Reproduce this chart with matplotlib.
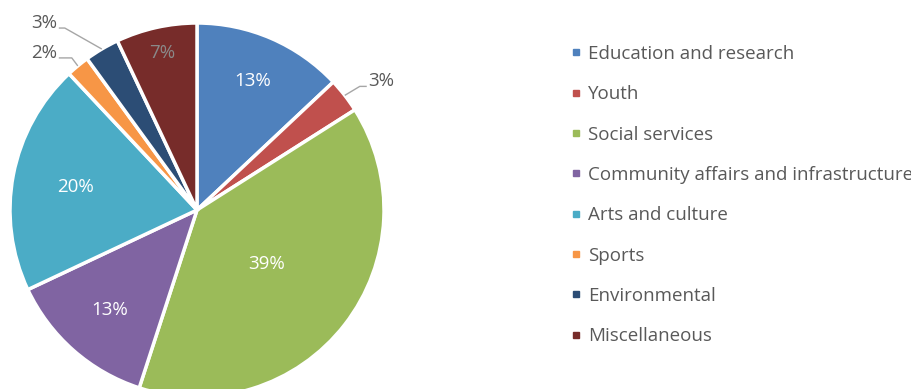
import matplotlib
matplotlib.use("Agg")
import matplotlib.pyplot as plt
from matplotlib.lines import Line2D
import numpy as np

categories = [
    "Education and research",
    "Youth",
    "Social services",
    "Community affairs and infrastructure",
    "Arts and culture",
    "Sports",
    "Environmental",
    "Miscellaneous",
]
shares = [13, 3, 39, 13, 20, 2, 3, 7]
label_texts = ["13%", "3%", "39%", "13%", "20%", "2%", "3%", "7%"]

colors = ["#4F81BD", "#C0504D", "#9BBB59", "#8064A2",
          "#4BACC6", "#F79646", "#2C4D75", "#772C2A"]

# label placement style: ("in", radial fraction, text colour) or
# ("out", elbow offset, horizontal run)
label_style = [
    ("in", 0.75, "white"),
    ("out", (15, 9), 7),
    ("in", 0.47, "white"),
    ("in", 0.71, "white"),
    ("in", 0.66, "white"),
    ("out", (-6, 8), -13),
    ("out", (-37, 21), -6),
    ("in", 0.86, "#8a8a8a"),
]

plt.rcParams["font.family"] = ["Open Sans", "DejaVu Sans"]
TEXT_GREY = "#595959"
FS = 13.5

W, H = 912, 389
fig = plt.figure(figsize=(W / 100, H / 100), dpi=100)
ax = fig.add_axes([0, 0, 1, 1])

cx, cy, R = 197, 179, 187
wedges, _ = ax.pie(
    shares, colors=colors, startangle=90, counterclock=False,
    center=(cx, cy), radius=R,
    wedgeprops=dict(edgecolor="white", linewidth=2.5),
)
ax.set_xlim(0, W)
ax.set_ylim(0, H)
ax.set_aspect("equal")
ax.axis("off")

for w, txt, style in zip(wedges, label_texts, label_style):
    mid = np.deg2rad((w.theta1 + w.theta2) / 2)
    ux, uy = np.cos(mid), np.sin(mid)
    if style[0] == "in":
        frac, col = style[1], style[2]
        ax.text(cx + frac * R * ux, cy + frac * R * uy, txt,
                ha="center", va="center", color=col, fontsize=FS)
    else:
        (dx, dy), run = style[1], style[2]
        x0, y0 = cx + R * ux, cy + R * uy
        x1, y1 = x0 + dx, y0 + dy
        x2 = x1 + run
        ax.plot([x0, x1, x2], [y0, y1, y1], color="#a6a6a6", lw=1.0,
                solid_capstyle="butt")
        ha = "left" if run > 0 else "right"
        ax.text(x2 + (1 if run > 0 else -2), y1 + 5, txt, ha=ha,
                va="center", color=TEXT_GREY, fontsize=FS)

handles = [Line2D([], [], marker="s", linestyle="none", markersize=5,
                  color=c) for c in colors]
leg = ax.legend(
    handles, categories, loc="upper left",
    bbox_to_anchor=(571 / W, 1 - 45 / H), frameon=False,
    fontsize=FS, labelcolor=TEXT_GREY, handlelength=0.53,
    handletextpad=0.37, labelspacing=1.19, borderpad=0, borderaxespad=0,
)

fig.savefig("out.png", dpi=100, facecolor="white")
